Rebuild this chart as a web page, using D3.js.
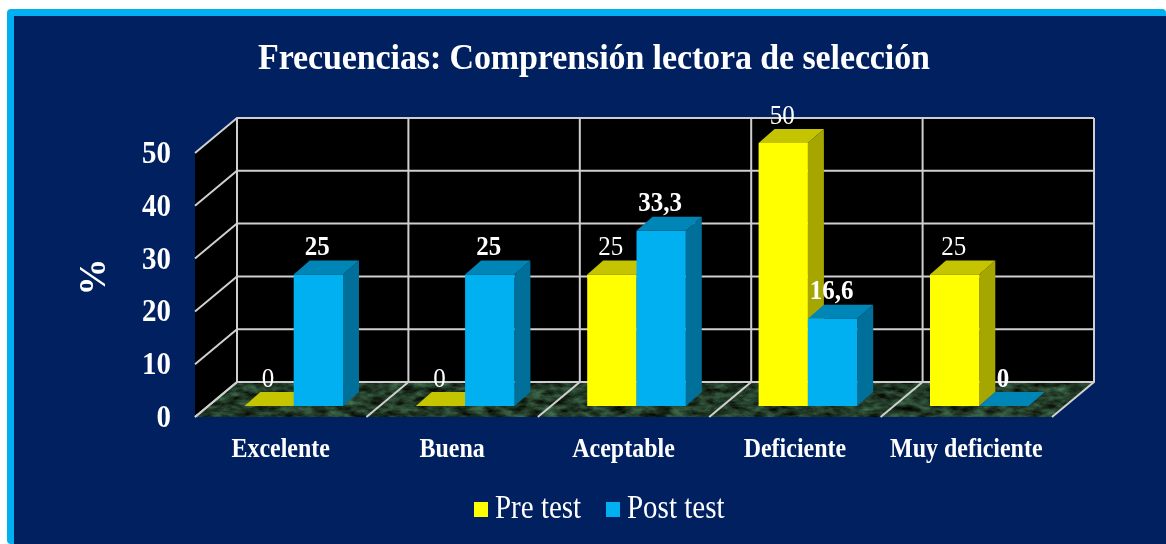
<!DOCTYPE html>
<html>
<head>
<meta charset="utf-8">
<script src="https://cdnjs.cloudflare.com/ajax/libs/d3/7.8.5/d3.min.js"></script>
<style>
  html, body { margin: 0; padding: 0; background: #fff; overflow: hidden; }
  text { font-family: "Liberation Serif", serif; fill: #fff; }
</style>
</head>
<body>
<svg id="chart" width="1166" height="544"></svg>
<script>
var categories = ["Excelente", "Buena", "Aceptable", "Deficiente", "Muy deficiente"];
var preTest = [0, 0, 25, 50, 25];
var postTest = [25, 25, 33.3, 16.6, 0];
var preLabels = ["0", "0", "25", "50", "25"];
var postLabels = ["25", "25", "33,3", "16,6", "0"];
var yTicks = [0, 10, 20, 30, 40, 50];
var seriesNames = ["Pre test", "Post test"];

var yellow = {front: "#ffff00", top: "#c4c400", side: "#a6a600"};
var blue = {front: "#00b0f0", top: "#0086b6", side: "#00709a"};

var svg = d3.select("#chart");

//frame
svg.append("rect").attr("x", 7).attr("y", 9).attr("width", 1159).attr("height", 535)
  .attr("rx", 4).attr("fill", "#00b0f0");
svg.append("rect").attr("x", 14).attr("y", 16).attr("width", 1152).attr("height", 528)
  .attr("fill", "#002060");

//marble floor and a bit of softness, the source is a scaled screenshot
var defs = svg.append("defs");
var marble = defs.append("filter").attr("id", "marble")
  .attr("color-interpolation-filters", "sRGB")
  .attr("x", 0).attr("y", 0).attr("width", 1).attr("height", 1);
marble.append("feTurbulence").attr("type", "fractalNoise")
  .attr("baseFrequency", "0.07 0.16").attr("numOctaves", 4).attr("seed", 7).attr("result", "n");
marble.append("feColorMatrix").attr("in", "n").attr("type", "matrix")
  .attr("values", "0.35 0 0 0 -0.04  0.6 0 0 0 -0.07  0.45 0 0 0 -0.07  0 0 0 0 1").attr("result", "c");
marble.append("feComposite").attr("in", "c").attr("in2", "SourceGraphic").attr("operator", "in");
defs.append("filter").attr("id", "soft").attr("color-interpolation-filters", "sRGB")
  .attr("filterUnits", "userSpaceOnUse").attr("x", 0).attr("y", 0).attr("width", 1166).attr("height", 544)
  .append("feGaussianBlur").attr("stdDeviation", 0.55);

var chart = svg.append("g").attr("filter", "url(#soft)");

//front edge of the floor, depth goes up and to the right
var front = {left: 195, right: 1052, base: 417};
var depth = {x: 42, y: -35};
var barInset = {x: 13};
var barDepth = {x: 16, y: -14};

var x = d3.scaleBand().domain(categories).range([front.left, front.right]);
var y = d3.scaleLinear().domain([0, 50]).range([front.base, front.base - 264]);
var yBar = d3.scaleLinear().domain([0, 50]).range([406, 143]);
var barW = 49.3;
var gap = x.bandwidth() / 2 - barW;

function pts(a) { return a.map(function(p) { return p.join(","); }).join(" "); }

//the text in the source is stretched, taller than the plain font
function stretch(sel, k) {
  sel.style("transform-box", "fill-box").style("transform-origin", "50% 75%")
    .style("transform", "scaleY(" + k + ")");
}

//walls
var b = front.base, t = y(50);
chart.append("polygon").attr("fill", "#000").attr("points", pts([
  [front.left, t], [front.left + depth.x, t + depth.y],
  [front.left + depth.x, b + depth.y], [front.left, b]]));
chart.append("rect").attr("fill", "#000")
  .attr("x", front.left + depth.x).attr("y", t + depth.y)
  .attr("width", front.right - front.left).attr("height", b - t);
chart.append("polygon").attr("fill", "#000").attr("filter", "url(#marble)").attr("points", pts([
  [front.left, b], [front.left + depth.x, b + depth.y],
  [front.right + depth.x, b + depth.y], [front.right, b]]));

//grid
var grid = chart.append("g").attr("stroke", "#cfcfcf").attr("stroke-width", 2).attr("fill", "none");
yTicks.forEach(function(v) {
  grid.append("polyline").attr("points", pts([
    [front.left, y(v)], [front.left + depth.x, y(v) + depth.y], [front.right + depth.x, y(v) + depth.y]]));
});
categories.concat([null]).forEach(function(c) {
  var px = c === null ? front.right : x(c);
  grid.append("polyline").attr("points", pts([
    [px, b], [px + depth.x, b + depth.y], [px + depth.x, t + depth.y]]));
});

//bars
function drawBar(x0, value, colors) {
  var x1 = x0 + barW;
  var base = yBar(0);
  var top = yBar(value);
  var g = chart.append("g");
  g.append("polygon").attr("fill", colors.side).attr("points", pts([
    [x1, top], [x1 + barDepth.x, top + barDepth.y], [x1 + barDepth.x, base + barDepth.y], [x1, base]]));
  g.append("polygon").attr("fill", colors.top).attr("points", pts([
    [x0, top], [x0 + barDepth.x, top + barDepth.y], [x1 + barDepth.x, top + barDepth.y], [x1, top]]));
  if (value > 0) {
    g.append("rect").attr("fill", colors.front)
      .attr("x", x0).attr("y", top).attr("width", barW).attr("height", base - top);
  }
}

function drawLabel(x0, value, label, weight) {
  chart.append("text").attr("x", x0 + barW / 2).attr("y", yBar(value) - 19.5)
    .attr("text-anchor", "middle").attr("font-size", 25).attr("font-weight", weight)
    .text(label).call(stretch, 1.08);
}

categories.forEach(function(c, i) {
  var x0 = x(c) + barInset.x + gap;
  drawBar(x0, preTest[i], yellow);
  drawBar(x0 + barW, postTest[i], blue);
});
categories.forEach(function(c, i) {
  var x0 = x(c) + barInset.x + gap;
  drawLabel(x0 - 1, preTest[i], preLabels[i], "normal");
  drawLabel(x0 + barW - 1, postTest[i], postLabels[i], "bold");
});

//axes
var yAxis = chart.append("g").attr("transform", "translate(" + front.left + ",0)")
  .call(d3.axisLeft(y).tickValues(yTicks).tickSize(0).tickPadding(24));
yAxis.select(".domain").remove();
yAxis.selectAll("text").attr("font-size", 29).attr("font-weight", "bold")
  .style("font-family", '"Liberation Serif", serif').attr("fill", "#fff").call(stretch, 1.12);

var xAxis = chart.append("g").attr("transform", "translate(0," + b + ")")
  .call(d3.axisBottom(x).tickSize(0).tickPadding(23));
xAxis.select(".domain").remove();
xAxis.selectAll("text").attr("font-size", 24).attr("font-weight", "bold")
  .style("font-family", '"Liberation Serif", serif').attr("fill", "#fff").call(stretch, 1.12);

chart.append("text").attr("transform", "translate(105,277) rotate(-90)")
  .attr("text-anchor", "middle").attr("font-size", 37).attr("font-weight", "bold").text("%");

//title
chart.append("text").attr("x", 258).attr("y", 69)
  .attr("font-size", 34).attr("font-weight", "bold")
  .attr("textLength", 672).attr("lengthAdjust", "spacing")
  .text("Frecuencias: Comprensión lectora de selección").call(stretch, 1.08);

//legend
var legendX = [474, 606];
seriesNames.forEach(function(name, i) {
  chart.append("rect").attr("x", legendX[i]).attr("y", 502).attr("width", 14).attr("height", 15)
    .attr("fill", i == 0 ? yellow.front : blue.front);
  chart.append("text").attr("x", legendX[i] + 21).attr("y", 518)
    .attr("font-size", 29).text(name).call(stretch, 1.13);
});
</script>
</body>
</html>
